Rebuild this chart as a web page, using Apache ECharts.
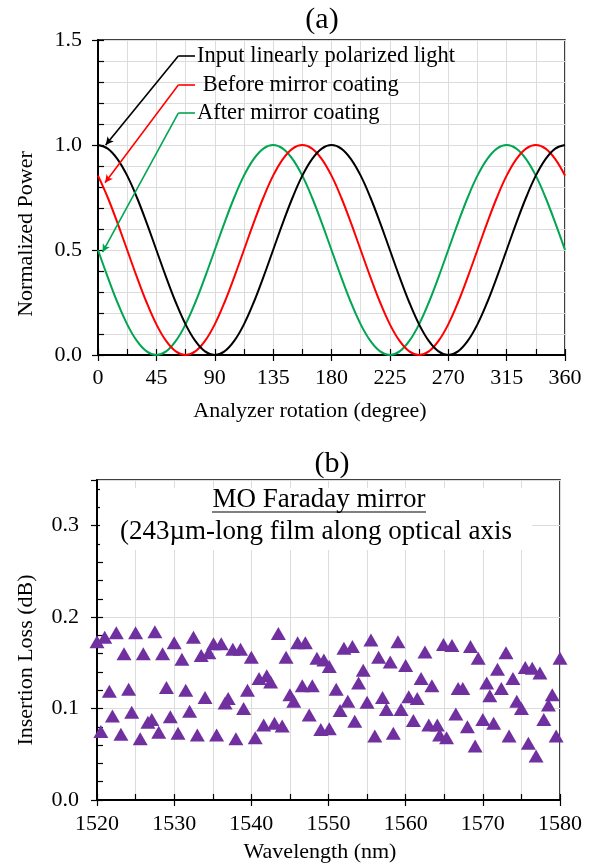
<!DOCTYPE html>
<html>
<head>
<meta charset="utf-8">
<script src="https://cdn.jsdelivr.net/npm/echarts@6/dist/echarts.min.js"></script>
<style>
html,body{margin:0;padding:0;background:#fff;}
#chart{width:594px;height:868px;}
</style>
</head>
<body>
<div id="chart"></div>
<script>
// ---------- Panel (a) data ----------
const angles = [0,7.5,15,22.5,30,37.5,45,52.5,60,67.5,75,82.5,90,97.5,105,112.5,120,127.5,135,142.5,150,157.5,165,172.5,180,
  187.5,195,202.5,210,217.5,225,232.5,240,247.5,255,262.5,270,277.5,285,292.5,300,307.5,315,322.5,330,337.5,345,352.5,360];
const inputLight = [1,0.983,0.933,0.854,0.75,0.629,0.5,0.371,0.25,0.146,0.067,0.017,0,0.017,0.067,0.146,0.25,0.371,0.5,0.629,0.75,0.854,0.933,0.983,1,
  0.983,0.933,0.854,0.75,0.629,0.5,0.371,0.25,0.146,0.067,0.017,0,0.017,0.067,0.146,0.25,0.371,0.5,0.629,0.75,0.854,0.933,0.983,1];
const beforeCoating = [0.854,0.75,0.629,0.5,0.371,0.25,0.146,0.067,0.017,0,0.017,0.067,0.146,0.25,0.371,0.5,0.629,0.75,0.854,0.933,0.983,1,0.983,0.933,
  0.854,0.75,0.629,0.5,0.371,0.25,0.146,0.067,0.017,0,0.017,0.067,0.146,0.25,0.371,0.5,0.629,0.75,0.854,0.933,0.983,1,0.983,0.933,0.854];
const afterCoating = [0.5,0.371,0.25,0.146,0.067,0.017,0,0.017,0.067,0.146,0.25,0.371,0.5,0.629,0.75,0.854,0.933,0.983,1,0.983,0.933,0.854,0.75,0.629,
  0.5,0.371,0.25,0.146,0.067,0.017,0,0.017,0.067,0.146,0.25,0.371,0.5,0.629,0.75,0.854,0.933,0.983,1,0.983,0.933,0.854,0.75,0.629,0.5];
const seriesNamesA = ['Input linearly polarized light', ' Before mirror coating', 'After mirror coating'];
// annotation leader anchors (data units): [start(arrow), knee, end]
const leaderInput  = [[5.9,1.0],[61.9,1.424],[74.8,1.424]];
const leaderBefore = [[5.4,0.82],[61.9,1.286],[74.8,1.286]];
const leaderAfter  = [[3.5,0.49],[61.9,1.152],[74.8,1.152]];
const xTicksA = [0,45,90,135,180,225,270,315,360];
const yTicksA = [0,0.5,1,1.5];

// ---------- Panel (b) data ----------
const wavelengths = [1520.0,1520.5,1521.0,1521.6,1522.0,1522.5,1523.1,1523.5,1524.1,1524.5,1525.0,1525.6,1526.0,1526.6,1527.1,1527.5,1528.0,1528.5,1529.0,1529.5,
  1530.0,1530.5,1531.0,1531.5,1532.0,1532.5,1533.0,1533.5,1534.0,1534.5,1535.1,1535.5,1536.1,1536.6,1537.0,1537.6,1538.0,1538.6,1539.0,1539.5,
  1540.0,1540.5,1541.0,1541.6,1542.0,1542.5,1543.0,1543.5,1544.0,1544.5,1545.0,1545.5,1546.0,1546.6,1547.0,1547.5,1547.9,1548.5,1549.0,1549.4,
  1550.1,1550.1,1551.0,1551.5,1552.0,1552.5,1553.1,1553.4,1553.9,1554.5,1555.0,1555.5,1556.0,1556.5,1557.0,1557.5,1558.0,1558.4,1559.0,1559.4,
  1560.0,1560.4,1561.0,1561.5,1562.0,1562.5,1563.0,1563.4,1564.1,1564.4,1564.9,1565.3,1566.0,1566.5,1566.8,1567.4,1568.0,1568.4,1569.0,1569.4,
  1570.0,1570.5,1570.9,1571.4,1571.9,1572.4,1573.0,1573.4,1573.9,1574.4,1575.0,1575.5,1575.9,1576.4,1576.9,1577.4,1577.9,1578.5,1579.0,1579.5,1580.0];
const insertionLoss = [0.173,0.075,0.178,0.119,0.092,0.183,0.072,0.160,0.121,0.096,0.183,0.067,0.160,0.085,0.088,0.184,0.074,0.160,0.123,0.091,
  0.172,0.073,0.154,0.120,0.097,0.178,0.071,0.158,0.112,0.161,0.171,0.071,0.171,0.106,0.111,0.165,0.067,0.165,0.100,0.120,
  0.156,0.068,0.133,0.082,0.136,0.129,0.084,0.182,0.081,0.156,0.115,0.108,0.172,0.125,0.172,0.093,0.125,0.155,0.077,0.153,
  0.146,0.078,0.121,0.098,0.166,0.108,0.168,0.086,0.128,0.142,0.107,0.175,0.070,0.156,0.112,0.099,0.151,0.073,0.173,0.099,
  0.147,0.113,0.087,0.111,0.133,0.162,0.082,0.125,0.082,0.071,0.170,0.068,0.169,0.094,0.122,0.122,0.080,0.168,0.059,0.155,
  0.088,0.128,0.114,0.084,0.143,0.122,0.161,0.070,0.133,0.108,0.100,0.145,0.062,0.144,0.048,0.139,0.088,0.104,0.115,0.070,0.155];
const xTicksB = [1520,1530,1540,1550,1560,1570,1580];
const yTicksB = [0,0.1,0.2,0.3];

// ---------- styles ----------
const FONT = 'Liberation Serif';
const colors = ['#000000', '#ff0000', '#00a651'];
const purple = '#7030a0';
const gridColor = '#dcdcdc';

function isTick(v, list){ return list.some(t => Math.abs(t - v) < 1e-6); }
function pairs(xs, ys){ return xs.map((x,i)=>[x, ys[i]]); }

const axisLabelStyle = {fontFamily: FONT, fontSize: 22, color: '#000'};

function leaderMarkLine(anchor, text, color, dist){
  return {
    silent: true, animation: false, symbol: ['none','none'],
    lineStyle: {color: color, width: 1.6, type: 'solid'},
    label: {show: false},
    emphasis: {disabled: true},
    data: [
      [{coord: anchor[1], symbol: 'none'}, {coord: anchor[0], symbol: 'arrow', symbolSize: [6, 8]}],
      [{coord: anchor[1], symbol: 'none'}, {coord: anchor[2], symbol: 'none',
        label: {show: true, position: 'end', distance: dist, formatter: text, fontFamily: FONT, fontSize: 22.5, color: '#000'}}]
    ]
  };
}

const chart = echarts.init(document.getElementById('chart'), null, {renderer: 'canvas'});
const option = {
  animation: false,
  backgroundColor: '#fff',
  grid: [
    {left: 98, top: 40, width: 467, height: 315, show: true, borderColor: '#000', borderWidth: 1.5, backgroundColor: 'transparent'},
    {left: 97, top: 480, width: 463, height: 320, show: true, borderColor: '#000', borderWidth: 1.5, backgroundColor: 'transparent'}
  ],
  xAxis: [
    {gridIndex: 0, type: 'value', min: 0, max: 360, interval: 22.5, position: 'bottom',
     axisLine: {show: true, lineStyle: {color: '#000', width: 2}},
     axisTick: {show: true, inside: true, length: 6, lineStyle: {color: '#000', width: 1.2}},
     axisLabel: Object.assign({margin: 12, formatter: v => isTick(v, xTicksA) ? String(v) : ''}, axisLabelStyle),
     splitLine: {show: true, lineStyle: {color: gridColor, width: 1}}},
    {gridIndex: 0, type: 'value', min: 0, max: 360, interval: 45, position: 'bottom',
     axisLine: {show: false}, axisTick: {show: true, inside: false, length: 6, lineStyle: {color: '#000', width: 1.2}},
     axisLabel: {show: false}, splitLine: {show: false}},
    {gridIndex: 1, type: 'value', min: 1520, max: 1580, interval: 5, position: 'bottom',
     axisLine: {show: true, lineStyle: {color: '#000', width: 2}},
     axisTick: {show: true, inside: true, length: 6, lineStyle: {color: '#000', width: 1.2}},
     axisLabel: Object.assign({margin: 13, formatter: v => isTick(v, xTicksB) ? String(v) : ''}, axisLabelStyle),
     splitLine: {show: true, lineStyle: {color: gridColor, width: 1}}},
    {gridIndex: 1, type: 'value', min: 1520, max: 1580, interval: 10, position: 'bottom',
     axisLine: {show: false}, axisTick: {show: true, inside: false, length: 6, lineStyle: {color: '#000', width: 1.2}},
     axisLabel: {show: false}, splitLine: {show: false}}
  ],
  yAxis: [
    {gridIndex: 0, type: 'value', min: 0, max: 1.5, interval: 0.1, position: 'left',
     axisLine: {show: true, lineStyle: {color: '#000', width: 2}},
     axisTick: {show: true, inside: true, length: 6, lineStyle: {color: '#000', width: 1.2}},
     axisLabel: Object.assign({margin: 16, formatter: v => isTick(v, yTicksA) ? v.toFixed(1) : ''}, axisLabelStyle),
     splitLine: {show: true, lineStyle: {color: gridColor, width: 1}}},
    {gridIndex: 0, type: 'value', min: 0, max: 1.5, interval: 0.5, position: 'left',
     axisLine: {show: false}, axisTick: {show: true, inside: false, length: 6, lineStyle: {color: '#000', width: 1.2}},
     axisLabel: {show: false}, splitLine: {show: false}},
    {gridIndex: 1, type: 'value', min: 0, max: 0.35, interval: 0.02, position: 'left',
     axisLine: {show: true, lineStyle: {color: '#000', width: 2}},
     axisTick: {show: true, inside: true, length: 6, lineStyle: {color: '#000', width: 1.2}},
     axisLabel: Object.assign({margin: 18, showMaxLabel: false, formatter: v => isTick(v, yTicksB) ? v.toFixed(1) : ''}, axisLabelStyle),
     splitLine: {show: false}},
    {gridIndex: 1, type: 'value', min: 0, max: 0.35, interval: 0.1, position: 'left',
     axisLine: {show: false}, axisTick: {show: true, inside: false, length: 6, lineStyle: {color: '#000', width: 1.2}},
     axisLabel: {show: false}, splitLine: {show: true, lineStyle: {color: gridColor, width: 1}}}
  ],
  series: [
    {name: seriesNamesA[0], type: 'line', xAxisIndex: 0, yAxisIndex: 0, data: pairs(angles, inputLight), smooth: 0.4,
     showSymbol: false, lineStyle: {color: colors[0], width: 2}, itemStyle: {color: colors[0]}, z: 4,
     markLine: leaderMarkLine(leaderInput, seriesNamesA[0], colors[0], 2)},
    {name: seriesNamesA[1], type: 'line', xAxisIndex: 0, yAxisIndex: 0, data: pairs(angles, beforeCoating), smooth: 0.4,
     showSymbol: false, lineStyle: {color: colors[1], width: 2}, itemStyle: {color: colors[1]}, z: 3,
     markLine: leaderMarkLine(leaderBefore, seriesNamesA[1], colors[1], 2)},
    {name: seriesNamesA[2], type: 'line', xAxisIndex: 0, yAxisIndex: 0, data: pairs(angles, afterCoating), smooth: 0.4,
     showSymbol: false, lineStyle: {color: colors[2], width: 2}, itemStyle: {color: colors[2]}, z: 2,
     markLine: leaderMarkLine(leaderAfter, seriesNamesA[2], colors[2], 2)},
    {name: 'Insertion Loss', type: 'scatter', xAxisIndex: 2, yAxisIndex: 2, data: pairs(wavelengths, insertionLoss),
     symbol: 'triangle', symbolSize: [15, 13], itemStyle: {color: purple, opacity: 1}, z: 5}
  ],
  graphic: [
    {type: 'text', x: 322, y: 20, style: {text: '(a)', font: '30px "Liberation Serif"', fill: '#000', align: 'center', verticalAlign: 'middle'}},
    {type: 'text', x: 310, y: 411, style: {text: 'Analyzer rotation (degree)', font: '22px "Liberation Serif"', fill: '#000', align: 'center', verticalAlign: 'middle'}},
    {type: 'text', x: 26, y: 234, rotation: Math.PI/2, style: {text: 'Normalized Power', font: '22px "Liberation Serif"', fill: '#000', align: 'center', verticalAlign: 'middle'}},
    {type: 'text', x: 332, y: 464, style: {text: '(b)', font: '30px "Liberation Serif"', fill: '#000', align: 'center', verticalAlign: 'middle'}},
    {type: 'rect', z: 100, shape: {x: 100, y: 488, width: 432, height: 62}, style: {fill: '#fff'}},
    {type: 'text', z: 101, x: 319, y: 500, style: {text: 'MO Faraday mirror', font: '27px "Liberation Serif"', fill: '#000', align: 'center', verticalAlign: 'middle'}},
    {type: 'line', z: 101, shape: {x1: 212, y1: 512, x2: 426, y2: 512}, style: {stroke: '#000', lineWidth: 1.2}},
    {type: 'text', z: 101, x: 120, y: 532, style: {text: '(243\u00b5m-long film along optical axis', font: '27px "Liberation Serif"', fill: '#000', align: 'left', verticalAlign: 'middle'}},
    {type: 'text', x: 320, y: 852, style: {text: 'Wavelength (nm)', font: '22px "Liberation Serif"', fill: '#000', align: 'center', verticalAlign: 'middle'}},
    {type: 'text', x: 26, y: 660, rotation: Math.PI/2, style: {text: 'Insertion Loss (dB)', font: '22px "Liberation Serif"', fill: '#000', align: 'center', verticalAlign: 'middle'}}
  ]
};
chart.setOption(option);
</script>
</body>
</html>
